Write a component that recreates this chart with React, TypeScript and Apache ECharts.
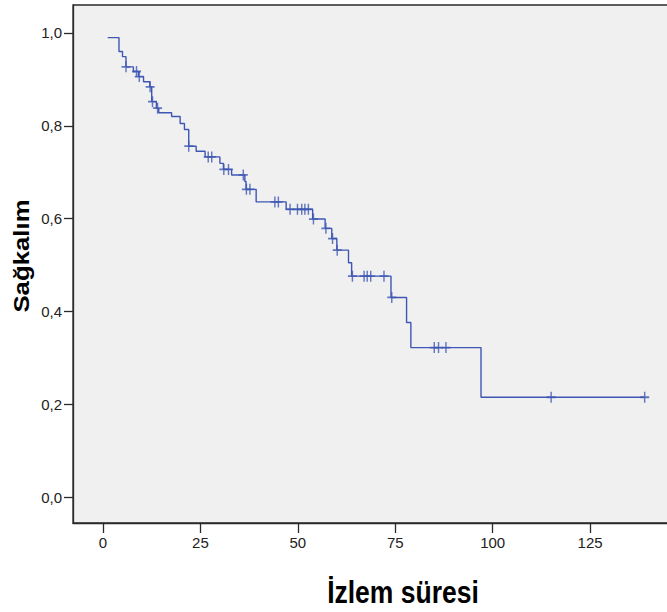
import React, { useEffect, useRef } from "react";
import * as echarts from "echarts";

// Kaplan–Meier step points (time at which survival drops, survival after the drop)
const eventTimes = [1.2, 4.1, 5.0, 5.9, 7.8, 9.1, 10.4, 12.0, 12.5, 13.7, 14.3, 17.6, 19.8, 20.9, 22.0, 23.9, 26.2, 30.0, 30.9, 33.0, 36.4, 36.7, 39.3, 47.0, 53.8, 57.0, 58.7, 60.0, 63.0, 63.8, 73.9, 77.9, 79.0, 97.0];
const survival = [0.99, 0.96, 0.949, 0.927, 0.917, 0.906, 0.895, 0.884, 0.852, 0.838, 0.828, 0.82, 0.805, 0.792, 0.756, 0.745, 0.733, 0.719, 0.706, 0.694, 0.68, 0.663, 0.636, 0.62, 0.599, 0.579, 0.557, 0.532, 0.505, 0.476, 0.43, 0.376, 0.322, 0.215];
const lastFollowUp = 139;
// Censored observations
const censorTimes = [5.9, 8.6, 9.3, 12.1, 12.7, 14.0, 22.0, 27.0, 27.9, 31.0, 32.2, 36.0, 36.8, 37.7, 44.1, 45.0, 48.0, 49.9, 51.0, 51.8, 52.7, 54.0, 57.2, 58.9, 60.1, 64.0, 67.0, 67.8, 68.7, 72.1, 74.1, 85.0, 86.1, 88.0, 115.0, 139.0];
// Axis ticks
const xTicks = [0, 25, 50, 75, 100, 125];
const yTicks = [0, 0.2, 0.4, 0.6, 0.8, 1.0];

const xTitle = "İzlem süresi";
const yTitle = "Sağkalım";

function survAt(t: number): number {
  let s = survival[0];
  for (let i = 0; i < eventTimes.length; i++) {
    if (eventTimes[i] <= t) s = survival[i];
  }
  return s;
}

const LINE_COLOR = "#3f57b3";
const AXIS_COLOR = "#2a2a2a";
const FONT = "Arial, 'Liberation Sans', Helvetica, sans-serif";

export default function App() {
  const ref = useRef<HTMLDivElement>(null);
  useEffect(() => {
    if (!ref.current) return;
    const chart = echarts.init(ref.current, undefined, { renderer: "svg" });
    const lineData = eventTimes.map((t, i) => [t, survival[i]]);
    lineData.push([lastFollowUp, survival[survival.length - 1]]);
    const censorData = censorTimes.map((t) => [t, survAt(t)]);
    chart.setOption({
      animation: false,
      backgroundColor: "#ffffff",
      grid: {
        left: 73,
        top: 5,
        width: 620,
        height: 518,
        outerBoundsMode: "none",
        containLabel: false,
        show: true,
        backgroundColor: "#f0f0f0",
        borderColor: AXIS_COLOR,
        borderWidth: 1.3,
      },
      xAxis: {
        type: "value",
        min: -7.7,
        max: 151.4,
        axisLine: { show: true, onZero: false, lineStyle: { color: AXIS_COLOR, width: 1.3 } },
        axisTick: { show: true, customValues: xTicks, length: 10, lineStyle: { color: AXIS_COLOR, width: 1.3 } },
        axisLabel: {
          customValues: xTicks,
          fontSize: 15,
          fontFamily: FONT,
          color: "#222",
          margin: 12,
        },
        splitLine: { show: false },
      },
      yAxis: {
        type: "value",
        min: -0.056,
        max: 1.0603,
        axisLine: { show: true, onZero: false, lineStyle: { color: AXIS_COLOR, width: 1.3 } },
        axisTick: { show: true, customValues: yTicks, length: 9, lineStyle: { color: AXIS_COLOR, width: 1.3 } },
        axisLabel: {
          customValues: yTicks,
          fontSize: 15,
          fontFamily: FONT,
          color: "#222",
          margin: 11,
          formatter: (v: number) => v.toFixed(1).replace(".", ","),
        },
        splitLine: { show: false },
      },
      graphic: [
        {
          type: "text",
          x: 22,
          y: 256,
          rotation: Math.PI / 2,
          scaleX: 1.2,
          style: {
            text: yTitle,
            fontSize: 21.5,
            fontWeight: "bold",
            fontFamily: FONT,
            fill: "#000",
            align: "center",
            verticalAlign: "middle",
            textAlign: "center",
            textVerticalAlign: "middle",
          },
        },
        {
          type: "text",
          x: 403,
          y: 592,
          scaleY: 1.2,
          style: {
            text: xTitle,
            fontSize: 26.5,
            fontWeight: "bold",
            fontFamily: FONT,
            fill: "#000",
            align: "center",
            verticalAlign: "middle",
            textAlign: "center",
            textVerticalAlign: "middle",
          },
        },
      ],
      series: [
        {
          type: "line",
          step: "end",
          data: lineData,
          showSymbol: false,
          symbol: "none",
          lineStyle: { color: LINE_COLOR, width: 1.4 },
          z: 2,
        },
        {
          type: "scatter",
          data: censorData,
          symbol: "path://M4.2,0 H5.8 V10 H4.2 Z M0,4.2 H10 V5.8 H0 Z",
          symbolSize: [9, 11],
          itemStyle: { color: LINE_COLOR },
          z: 3,
        },
      ],
    });
    return () => chart.dispose();
  }, []);
  return (
    <div
      ref={ref}
      style={{ position: "fixed", left: 0, top: 0, width: 667, height: 612, background: "#fff" }}
    />
  );
}
